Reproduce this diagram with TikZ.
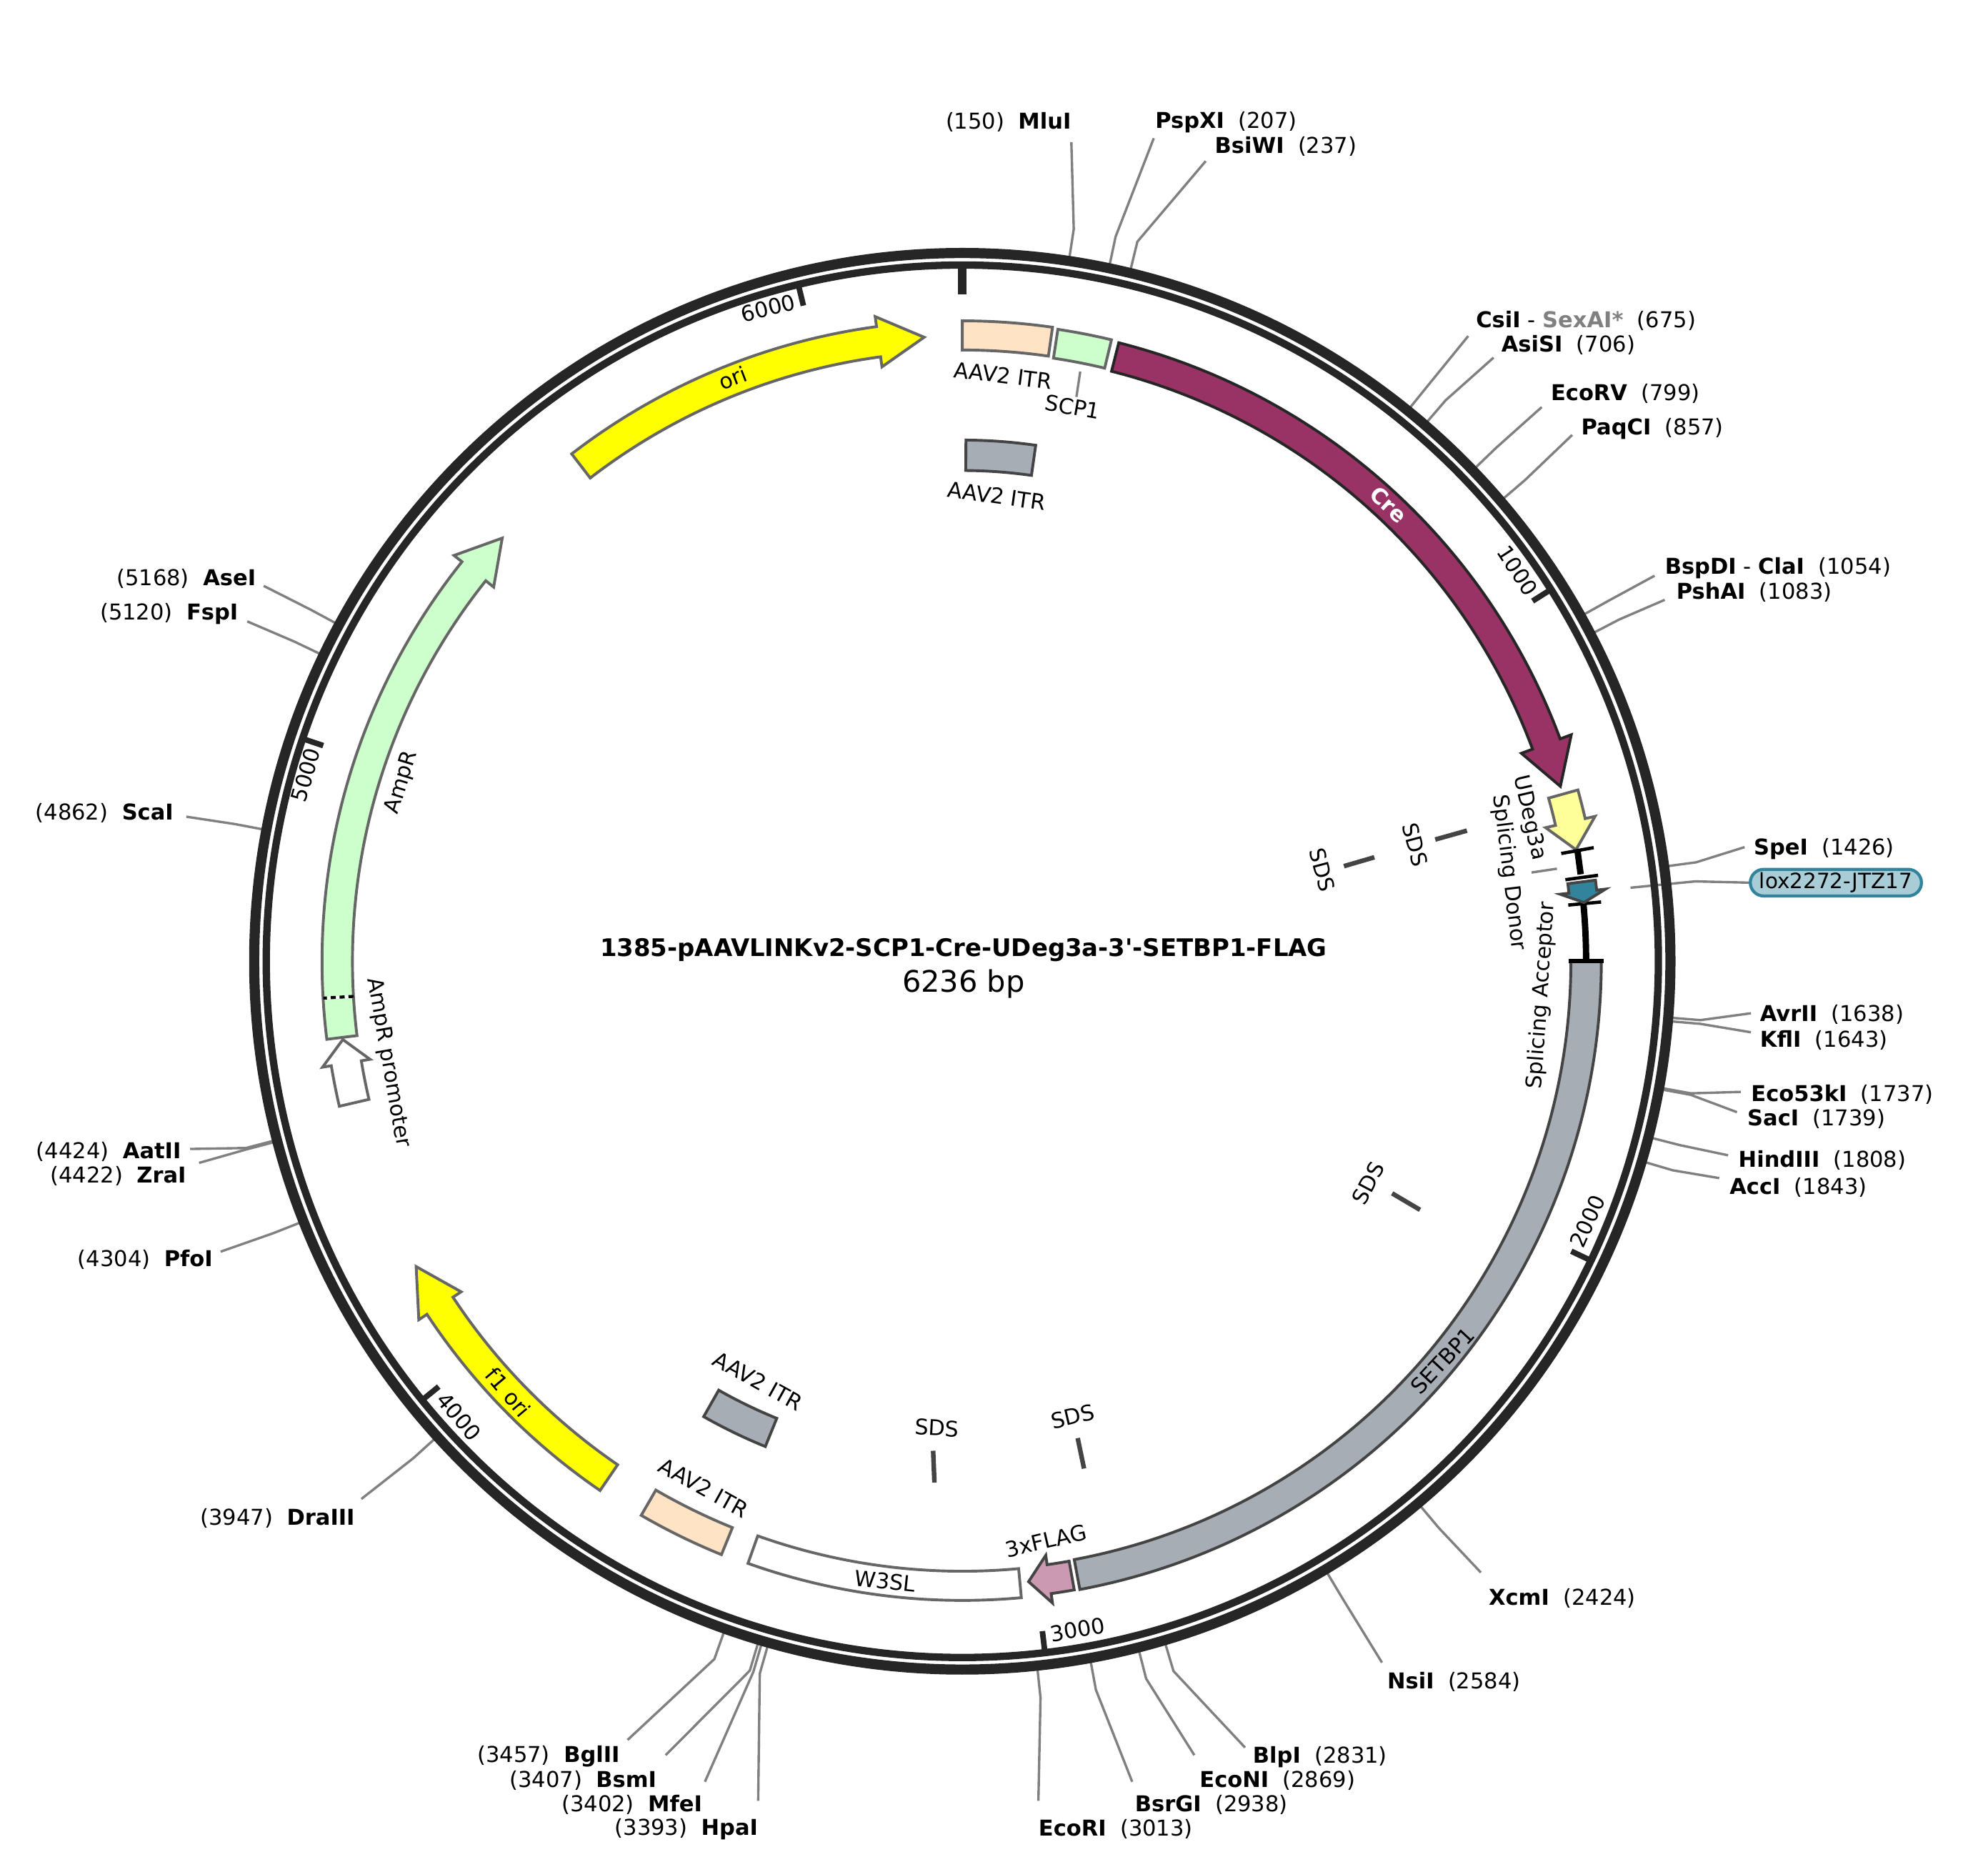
\documentclass[tikz,border=0pt]{standalone}
\usepackage{fontspec}
\setmainfont{DejaVu Sans}
\usetikzlibrary{calc,shapes.misc}

\definecolor{ringcol}{HTML}{262626}
\definecolor{leadcol}{HTML}{808080}
\definecolor{edgecol}{HTML}{666666}
\definecolor{darkcol}{HTML}{444444}
\definecolor{crecol}{HTML}{993366}
\definecolor{itrcol}{HTML}{FFE3C4}
\definecolor{ampcol}{HTML}{CCFFCC}
\definecolor{graycol}{HTML}{A6ADB5}
\definecolor{flagcol}{HTML}{CC99B2}
\definecolor{loxcol}{HTML}{31849B}
\definecolor{loxfill}{HTML}{A9CDD7}
\definecolor{oricol}{HTML}{FFFF00}
\definecolor{udegcol}{HTML}{FFFF99}

\tikzset{
  txt/.style={font=\fontsize{17}{20}\selectfont,inner sep=0pt},
  sitetxt/.style={font=\fontsize{17.2}{20}\selectfont,inner sep=0pt,yshift=-1.2pt},
  siteline/.style={draw=leadcol,line width=1.9pt},
  feat/.style={draw=edgecol,line width=2.2pt,line join=miter},
  darkfeat/.style={draw=darkcol,line width=2.2pt,line join=miter},
  sds/.style={draw=darkcol,line width=3.6pt},
  bar/.style={draw=black,line width=2.6pt},
}

% thetas run clockwise from the top of the ring
\newcommand{\arcbox}[5]{%
  \draw[#5] ({#1-90}:#4) arc[start angle={#1-90},end angle={#2-90},radius=#4]
    -- ({#2-90}:#3) arc[start angle={#2-90},end angle={#1-90},radius=#3] -- cycle;}
% from, head base, tip, mid radius, half shaft, half head, style
\newcommand{\arcarrow}[7]{%
  \draw[#7] ({#1-90}:#4+#5) arc[start angle={#1-90},end angle={#2-90},radius=#4+#5]
    -- ({#2-90}:#4+#6) -- ({#3-90}:#4) -- ({#2-90}:#4-#6) -- ({#2-90}:#4-#5)
    arc[start angle={#2-90},end angle={#1-90},radius=#4-#5] -- cycle;}

\begin{document}
\begin{tikzpicture}[x=1pt,y=-1pt]
\useasboundingbox (0,0) rectangle (1568,1472);
\coordinate (c) at (759,758);

% sites, label on the right of the line end
\foreach \sid/\sbp/\ex/\ey/\lx/\ly in {
  PspXI/207/910/109/911/95, BsiWI/237/951/127/958/114,
  AsiSI/706/1178/282/1184/271, EcoRV/799/1216/321/1223/309, PaqCI/857/1240/343/1247/337,
  PshAI/1083/1313/473/1322/466, SpeI/1426/1376/668/1383/668,
  AvrII/1638/1381/799/1388/799, KflI/1643/1381/814/1388/819,
  Eco53kI/1737/1373/861/1381/862, SacI/1739/1370/877/1378/881,
  HindIII/1808/1363/911/1371/914, AccI/1843/1356/929/1364/935,
  XcmI/2424/1168/1240/1174/1259, NsiI/2584/1090/1311/1094/1325,
  BlpI/2831/982/1378/988/1384, EcoNI/2869/942/1384/946/1403,
  BsrGI/2938/893/1405/895/1422, EcoRI/3013/819/1420/819/1441}{
  \node[sitetxt,anchor=west] (\sid) at (\lx,\ly) {\textbf{\sid}~~(\sbp)};
  \coordinate (\sid end) at (\ex,\ey);
  \pgfmathsetmacro\sa{\sbp/6236*360-90}
  \draw[siteline] ($(c)+(\sa:562)$) -- ($(c)+(\sa:584)$) -- (\sid end);
}
% sites, label on the left of the line end
\foreach \sid/\sbp/\ex/\ey/\lx/\ly in {
  MluI/150/845/112/845/95, HpaI/3393/598/1420/598/1441,
  MfeI/3402/556/1405/554/1422, BsmI/3407/525/1384/518/1403,
  BglII/3457/495/1372/489/1384, DraIII/3947/285/1182/280/1196,
  PfoI/4304/174/987/168/992, ZraI/4422/157/917/147/926,
  AatII/4424/150/906/143/907, ScaI/4862/147/644/137/640,
  FspI/5120/195/490/188/483, AseI/5168/208/462/202/455}{
  \node[sitetxt,anchor=east] (\sid) at (\lx,\ly) {(\sbp)~~\textbf{\sid}};
  \coordinate (\sid end) at (\ex,\ey);
  \pgfmathsetmacro\sa{\sbp/6236*360-90}
  \draw[siteline] ($(c)+(\sa:562)$) -- ($(c)+(\sa:584)$) -- (\sid end);
}
\node[sitetxt,anchor=west] (CsiI) at (1164,252) {\textbf{CsiI} - \textcolor{leadcol}{\textbf{SexAI*}}~~(675)};
\coordinate (CsiI end) at (1158,265);
\draw[siteline] ($(c)+(-51.03:562)$) -- ($(c)+(-51.03:584)$) -- (CsiI end);
\node[sitetxt,anchor=west] (ClaI) at (1313,447) {\textbf{BspDI} - \textbf{ClaI}~~(1054)};
\coordinate (ClaI end) at (1305,454);
\draw[siteline] ($(c)+(-29.15:562)$) -- ($(c)+(-29.15:584)$) -- (ClaI end);

% lox label
\node[txt,font=\fontsize{16.6}{20}\selectfont,draw=loxcol,fill=loxfill,line width=2.4pt,rounded rectangle,minimum height=21pt,minimum width=135pt] (lox) at (1448,696) {lox2272-JTZ17};
\coordinate (loxend) at (1286,700);
\draw[siteline] (lox.west) -- (1337,695) -- (loxend);

% ring
\draw[ringcol,line width=5.8pt] (c) circle[radius=549];
\draw[ringcol,line width=8pt] (c) circle[radius=558.5];

\begin{scope}[shift={(759,758)}]
% ticks
\draw[ringcol,line width=7pt] (-90:548) -- (-90:526);
\foreach \t in {1000,2000,3000,4000,5000,6000}{
  \pgfmathsetmacro\ta{\t/6236*360-90}
  \draw[ringcol,line width=4.4pt] (\ta:548) -- (\ta:532);
}
% features
\arcarrow{-37.6}{-7.7}{-3.5}{493}{12}{20}{feat,fill=oricol}
\arcbox{0}{8.1}{482}{505}{feat,fill=itrcol}
\arcbox{8.6}{13.5}{481}{504}{feat,fill=ampcol}
\arcarrow{14.2}{69.6}{73.7}{491.5}{11.6}{21}{darkfeat,draw=ringcol,fill=crecol}
\arcbox{0.4}{8.1}{387}{411}{darkfeat,fill=graycol}
\arcarrow{74.45}{77.1}{79.7}{492}{12}{20}{feat,fill=udegcol}
% linker
\draw[black,line width=5pt] (-10.2:493) -- (-8:492.5);
\draw[black,line width=5pt] (-5.3:492) arc[start angle=-5.3,end angle=0,radius=492];
\draw[bar] (-10.2:480) -- (-10.2:506);
\draw[bar] (-7.7:480) -- (-7.7:506);
\draw[bar] (-5.3:480) -- (-5.3:506);
\arcarrow{82.7}{83.6}{84.6}{492.5}{11}{18}{darkfeat,fill=loxcol}
% lower half
\arcbox{90}{169.4}{480}{504}{darkfeat,fill=graycol}
\draw[black,line width=3.5pt] (0:478) -- (0:506);
\arcarrow{169.9}{172}{173.9}{492}{11.5}{19}{darkfeat,fill=flagcol}
\arcbox{174.7}{199.6}{481}{504}{feat,fill=white}
\arcbox{202.1}{210.1}{482}{505}{feat,fill=itrcol}
\arcbox{202.1}{209.6}{389}{413}{darkfeat,fill=graycol}
\arcarrow{-145.6}{-123.4}{-119.2}{493.5}{12.3}{20}{feat,fill=oricol}
\arcarrow{-103.1}{-99.4}{-97.2}{492.5}{12}{19}{feat,fill=white}
\arcarrow{-97}{-51.4}{-47.4}{493}{12}{20}{feat,fill=ampcol}
\draw[white,line width=2.4pt] ({-93.3-90}:481) -- ({-93.3-90}:505);
\draw[black,line width=2.4pt,dash pattern=on 4pt off 3pt] ({-93.3-90}:481) -- ({-93.3-90}:505);
\end{scope}

% SDS ticks
\coordinate (sdsa1) at (1157,655); \coordinate (sdsa2) at (1132,662);
\coordinate (sdsb1) at (1084,676); \coordinate (sdsb2) at (1060,683);
\coordinate (sdsc1) at (1120,954); \coordinate (sdsc2) at (1098,941);
\coordinate (sdsd1) at (855,1158); \coordinate (sdsd2) at (850,1134);
\coordinate (sdse1) at (737,1169); \coordinate (sdse2) at (736,1144);
\foreach \p in {a,b,c,d,e} \draw[sds] (sds\p1) -- (sds\p2);

% ring numbers
\node[txt,rotate=-57] (t1000) at (1197,450) {1000};
\node[txt,rotate=66] (t2000) at (1252,963) {2000};
\node[txt,rotate=10] (t3000) at (850,1285) {3000};
\node[txt,rotate=-50] (t4000) at (362,1117) {4000};
\node[txt,rotate=74] (t5000) at (241,611) {5000};
\node[txt,rotate=14] (t6000) at (606,243) {6000};

% feature labels
\node[txt,rotate=21] (orilab) at (578,298) {ori};
\node[txt,rotate=-7] (itra) at (791,296) {AAV2 ITR};
\node[txt,rotate=-10] (scplab) at (846,321) {SCP1};
\coordinate (scpa) at (852,293); \coordinate (scpb) at (849,313);
\draw[siteline] (scpa) -- (scpb);
\node[txt,rotate=-8] (itrb) at (786,391) {AAV2 ITR};
\node[txt,rotate=-43,text=white,font=\fontsize{17}{20}\selectfont\bfseries] (crelab) at (1095,398) {Cre};
\node[txt,rotate=-77] (udeg) at (1206,645) {UDeg3a};
\node[txt,rotate=-83] (donor) at (1190,688) {Splicing Donor};
\coordinate (donora) at (1208,688); \coordinate (donorb) at (1228,685);
\draw[siteline] (donora) -- (donorb);
\node[txt,rotate=86] (accept) at (1216,785) {Splicing Acceptor};
\node[txt,rotate=47] (setlab) at (1138,1073) {SETBP1};
\node[txt,rotate=13] (flaglab) at (825,1215) {3xFLAG};
\node[txt,rotate=-6] (w3lab) at (698,1247) {W3SL};
\node[txt,rotate=-29] (itrc) at (555,1173) {AAV2 ITR};
\node[txt,rotate=-29] (itrd) at (598,1089) {AAV2 ITR};
\node[txt,rotate=-50] (f1lab) at (401,1098) {f1 ori};
\node[txt,rotate=-80] (amplab) at (306,838) {AmpR promoter};
\node[txt,rotate=73] (ampr) at (317,617) {AmpR};
\node[txt,rotate=-75] (sdsa) at (1116,666) {SDS};
\node[txt,rotate=-75] (sdsb) at (1043,686) {SDS};
\node[txt,rotate=62] (sdsc) at (1079,933) {SDS};
\node[txt,rotate=13] (sdsd) at (846,1117) {SDS};
\node[txt,rotate=-3] (sdse) at (739,1126) {SDS};

% title
\node[inner sep=0pt,font=\fontsize{19.1}{22}\selectfont\bfseries] (title) at (760,749) {1385-pAAVLINKv2-SCP1-Cre-UDeg3a-3\textquotesingle-SETBP1-FLAG};
\node[inner sep=0pt,font=\fontsize{23.4}{28}\selectfont] (size) at (760,776) {6236 bp};
\end{tikzpicture}
\end{document}
